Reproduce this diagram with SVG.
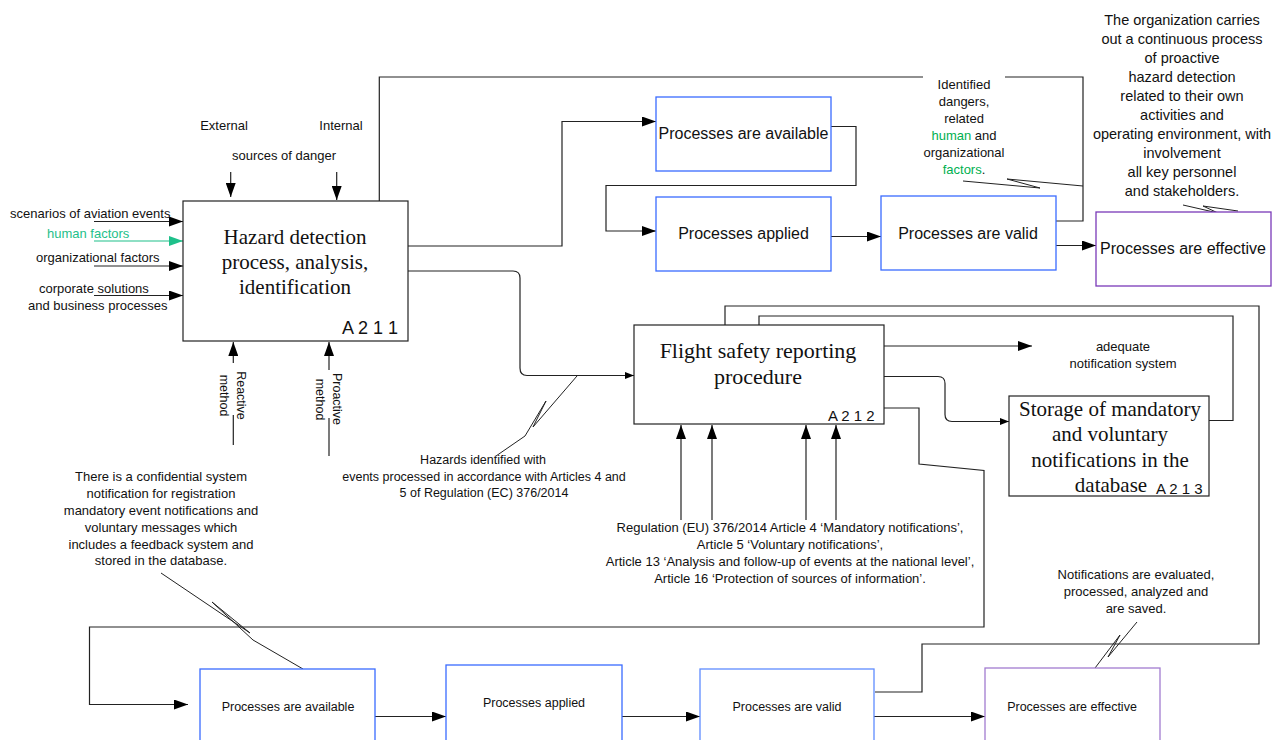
<svg xmlns="http://www.w3.org/2000/svg" width="1276" height="740" viewBox="0 0 1276 740">
<style>
.t{font-family:"Liberation Sans",Arial,sans-serif;font-size:13px;fill:#111}
.c{text-anchor:middle}
.tt{font-family:"Liberation Serif","Times New Roman",serif;font-size:21px;fill:#111;text-anchor:middle}
.bl{fill:#fff;stroke:#3a6bff;stroke-width:1.3}
.bl2{fill:#fff;stroke:#5f8cff;stroke-width:1.3}
.pu{fill:#fff;stroke:#7a3ab8;stroke-width:1.3}
.pu2{fill:#fff;stroke:#a27cd0;stroke-width:1.3}
.bk{fill:#fff;stroke:#222;stroke-width:1.2}
.ln{fill:none;stroke:#222;stroke-width:1.2}
.lnt{fill:none;stroke:#222;stroke-width:1}
.g{fill:#00b050}
.gt{fill:#1ec08a}
.bt{font-size:16px}
.sm{font-size:12.5px}
.id{font-size:18px}
</style>
<defs>
<marker id="ah" viewBox="0 0 14 10" refX="14" refY="5" markerWidth="14" markerHeight="10" orient="auto" markerUnits="userSpaceOnUse"><path d="M0,0L14,5L0,10z" fill="#000"/></marker>
<marker id="as" viewBox="0 0 9 7" refX="9" refY="3.5" markerWidth="9" markerHeight="7" orient="auto" markerUnits="userSpaceOnUse"><path d="M0,0L9,3.5L0,7z" fill="#000"/></marker>
<marker id="ag" viewBox="0 0 14 10" refX="14" refY="5" markerWidth="14" markerHeight="10" orient="auto" markerUnits="userSpaceOnUse"><path d="M0,0L14,5L0,10z" fill="#1ec08a"/></marker>
</defs>

<g id="connectors">
<!-- inputs to A211 -->
<path class="ln" d="M94,221.5H183" marker-end="url(#ah)"/>
<path d="M94,241H183" fill="none" stroke="#1ec08a" stroke-width="1.2" marker-end="url(#ag)"/>
<path class="ln" d="M94,266H183" marker-end="url(#ah)"/>
<path class="ln" d="M94,295.5H183" marker-end="url(#ah)"/>
<!-- controls -->
<path class="ln" d="M230.7,172V197" marker-end="url(#ah)"/>
<path class="ln" d="M336.7,172V200" marker-end="url(#ah)"/>
<!-- mechanisms -->
<path class="ln" d="M233.3,363V342" marker-end="url(#ah)"/>
<path class="ln" d="M233.3,415V445"/>
<path class="ln" d="M329,370V342" marker-end="url(#ah)"/>
<path class="ln" d="M329,418V456"/>
<!-- feedback from valid to A211 top -->
<path class="ln" d="M379.3,201V77H923"/>
<path class="ln" d="M1005,77H1083V221H1056"/>
<!-- A211 to available -->
<path class="ln" d="M408,246H562V121.5H656" marker-end="url(#ah)"/>
<!-- available to applied -->
<path class="ln" d="M831,126.5H856V185.5H606V231H656" marker-end="url(#ah)"/>
<!-- applied to valid -->
<path class="ln" d="M831,236.5H881" marker-end="url(#ah)"/>
<!-- valid to effective -->
<path class="ln" d="M1056,245.5H1096" marker-end="url(#ah)"/>
<!-- A211 to Flight -->
<path class="ln" d="M408,271H513Q520,271 520,278V368Q520,375.5 527,375.5H634" marker-end="url(#as)"/>
<!-- Flight top feedback loops -->
<path class="ln" d="M725,325V306H1259V644H922V692H875"/>
<path class="ln" d="M759,325V316H1233V420.5H1209"/>
<!-- Flight outputs -->
<path class="ln" d="M884,346H1032" marker-end="url(#ah)"/>
<path class="ln" d="M884,376.5H938Q945,376.5 945,383.5V414.5Q945,421.5 952,421.5H1009" marker-end="url(#as)"/>
<path class="ln" d="M884,408H919V464L984,470.5V627H89.5V704.5H188" marker-end="url(#ah)"/>
<!-- regulation controls to Flight -->
<path class="ln" d="M681,520V425" marker-end="url(#ah)"/>
<path class="ln" d="M712,520V425" marker-end="url(#ah)"/>
<path class="ln" d="M806,520V425" marker-end="url(#ah)"/>
<path class="ln" d="M836,520V425" marker-end="url(#ah)"/>
<!-- bottom chain -->
<path class="ln" d="M375,716.5H446" marker-end="url(#ah)"/>
<path class="ln" d="M622,716.5H700" marker-end="url(#ah)"/>
<path class="ln" d="M874,716.5H985" marker-end="url(#ah)"/>
<!-- callout leaders -->
<path class="lnt" d="M963,181L1040,188L1007,179L1083,186"/>
<path class="lnt" d="M1183,205L1218,213L1203,206L1238,211"/>
<path class="lnt" d="M577,376L533,427L546,401L525,436L496,456"/>
<path class="lnt" d="M161,573L250,633L212,602L253,640L303,669"/>
<path class="lnt" d="M1137,622L1108,657L1120,635L1092,672"/>
</g>

<g id="A211">
<rect class="bk" x="183" y="201" width="225" height="140"/>
<text class="tt" x="295" y="244">Hazard detection</text>
<text class="tt" x="295" y="269">process, analysis,</text>
<text class="tt" x="295" y="294">identification</text>
<text class="t id" x="342" y="334">A 2 1 1</text>
</g>

<g id="A211-labels">
<text class="t" x="10" y="218">scenarios of aviation events</text>
<text class="t gt" x="47" y="238">human factors</text>
<text class="t" x="36" y="262">organizational factors</text>
<text class="t" x="39" y="293">corporate solutions</text>
<text class="t" x="28" y="310">and business processes</text>
<text class="t c" x="224" y="130">External</text>
<text class="t c" x="341" y="130">Internal</text>
<text class="t c" x="284" y="160">sources of danger</text>
<text class="t sm c" transform="translate(237,395.5) rotate(90)">Reactive</text>
<text class="t sm c" transform="translate(220,395.5) rotate(90)">method</text>
<text class="t sm c" transform="translate(332.5,399) rotate(90)">Proactive</text>
<text class="t sm c" transform="translate(315.5,399.5) rotate(90)">method</text>
</g>

<g id="top-available">
<rect class="bl" x="656" y="97" width="175" height="74"/>
<text class="t bt c" x="743.5" y="139">Processes are available</text>
</g>
<g id="top-applied">
<rect class="bl" x="656" y="197" width="175" height="74"/>
<text class="t bt c" x="743.5" y="239">Processes applied</text>
</g>
<g id="top-valid">
<rect class="bl" x="881" y="196" width="175" height="74"/>
<text class="t bt c" x="968" y="239">Processes are valid</text>
</g>
<g id="top-effective">
<rect class="pu" x="1096" y="212" width="175" height="74"/>
<text class="t bt c" x="1183" y="254">Processes are effective</text>
</g>

<g id="note-identified">
<text class="t c" x="964" y="89">Identified</text>
<text class="t c" x="964" y="106">dangers,</text>
<text class="t c" x="964" y="123">related</text>
<text class="t c" x="964" y="140"><tspan class="g">human</tspan> and</text>
<text class="t c" x="964" y="157">organizational</text>
<text class="t c" x="964" y="174"><tspan class="g">factors</tspan>.</text>
</g>

<g id="note-organization" style="font-size:14.5px">
<text class="t c" x="1182" y="25" style="font-size:14.5px">The organization carries</text>
<text class="t c" x="1182" y="44" style="font-size:14.5px">out a continuous process</text>
<text class="t c" x="1182" y="63" style="font-size:14.5px">of proactive</text>
<text class="t c" x="1182" y="82" style="font-size:14.5px">hazard detection</text>
<text class="t c" x="1182" y="101" style="font-size:14.5px">related to their own</text>
<text class="t c" x="1182" y="120" style="font-size:14.5px">activities and</text>
<text class="t c" x="1182" y="139" style="font-size:14.5px">operating environment, with</text>
<text class="t c" x="1182" y="158" style="font-size:14.5px">involvement</text>
<text class="t c" x="1182" y="177" style="font-size:14.5px">all key personnel</text>
<text class="t c" x="1182" y="196" style="font-size:14.5px">and stakeholders.</text>
</g>

<g id="A212">
<rect class="bk" x="634" y="325" width="250" height="99"/>
<text class="tt" x="758" y="358" style="font-size:22px">Flight safety reporting</text>
<text class="tt" x="758" y="384" style="font-size:22px">procedure</text>
<text class="t" x="828" y="421" style="font-size:15px">A 2 1 2</text>
</g>

<g id="adequate-label">
<text class="t c" x="1123" y="351">adequate</text>
<text class="t c" x="1123" y="368">notification system</text>
</g>

<g id="A213">
<rect class="bk" x="1009" y="396" width="200" height="100"/>
<text class="tt" x="1110" y="416">Storage of mandatory</text>
<text class="tt" x="1110" y="441">and voluntary</text>
<text class="tt" x="1110" y="467">notifications in the</text>
<text class="tt" x="1111" y="492">database</text>
<text class="t" x="1156" y="494" style="font-size:15px">A 2 1 3</text>
</g>

<g id="note-hazards">
<text class="t sm c" x="483" y="464">Hazards identified with</text>
<text class="t sm c" x="484" y="481">events processed in accordance with Articles 4 and</text>
<text class="t sm c" x="484" y="497">5 of Regulation (EC) 376/2014</text>
</g>

<g id="note-regulation">
<text class="t c" x="790" y="532">Regulation (EU) 376/2014 Article 4 ‘Mandatory notifications’,</text>
<text class="t c" x="790" y="549">Article 5 ‘Voluntary notifications’,</text>
<text class="t c" x="790" y="566">Article 13 ‘Analysis and follow-up of events at the national level’,</text>
<text class="t c" x="790" y="583">Article 16 ‘Protection of sources of information’.</text>
</g>

<g id="note-confidential">
<text class="t c" x="161" y="481">There is a confidential system</text>
<text class="t c" x="161" y="498">notification for registration</text>
<text class="t c" x="161" y="515">mandatory event notifications and</text>
<text class="t c" x="161" y="532">voluntary messages which</text>
<text class="t c" x="161" y="549">includes a feedback system and</text>
<text class="t c" x="161" y="565">stored in the database.</text>
</g>

<g id="note-notifications">
<text class="t c" x="1136" y="579">Notifications are evaluated,</text>
<text class="t c" x="1136" y="596">processed, analyzed and</text>
<text class="t c" x="1136" y="613">are saved.</text>
</g>

<g id="bottom-available">
<rect class="bl" x="200" y="669" width="175" height="80"/>
<text class="t sm c" x="288" y="711">Processes are available</text>
</g>
<g id="bottom-applied">
<rect class="bl" x="446" y="665" width="176" height="84"/>
<text class="t sm c" x="534" y="707">Processes applied</text>
</g>
<g id="bottom-valid">
<rect class="bl2" x="700" y="669" width="174" height="80"/>
<text class="t sm c" x="787" y="711">Processes are valid</text>
</g>
<g id="bottom-effective">
<rect class="pu2" x="985" y="668" width="175" height="81"/>
<text class="t sm c" x="1072" y="711">Processes are effective</text>
</g>
</svg>
